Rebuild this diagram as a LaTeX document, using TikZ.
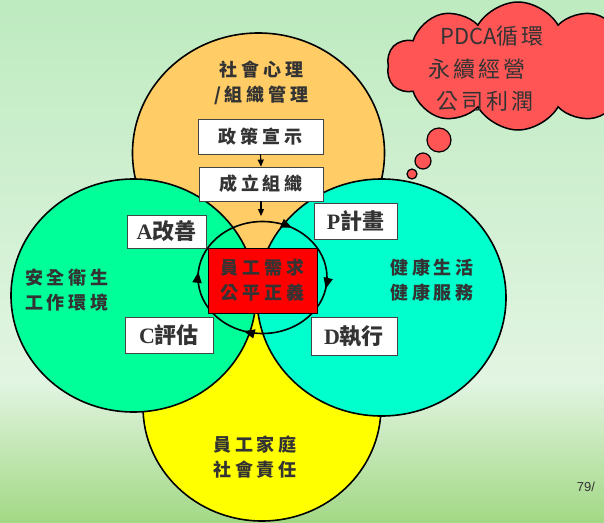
\documentclass[tikz,border=0pt]{standalone}
\usepackage{fontspec}
\usetikzlibrary{shapes.symbols,shapes.geometric,arrows.meta,decorations.markings}
\newfontfamily\cjk{Noto Sans CJK TC}
\newfontfamily\tnr{Liberation Serif}
\newfontfamily\arial{Liberation Sans}
\newcommand\ls{\hspace{4pt}}
\definecolor{bgtop}{HTML}{BEEBC0}
\definecolor{bgmid}{HTML}{E2F4E2}
\definecolor{bgbot}{HTML}{A2D884}
\definecolor{orangeC}{HTML}{FFCC66}
\definecolor{yellowC}{HTML}{FFFF00}
\definecolor{greenC}{HTML}{00FF99}
\definecolor{cyanC}{HTML}{00FFCC}
\definecolor{cloudC}{HTML}{FF5555}
\definecolor{txtC}{HTML}{333333}
\definecolor{boxB}{HTML}{444444}
\tikzset{
  circ/.style={ellipse, draw=black, line width=1.6pt, inner sep=0pt},
  lbl/.style={font=\cjk\bfseries\fontsize{18}{25}\selectfont, text=txtC, align=center, inner sep=0pt},
  stepbox/.style={draw=boxB, fill=white, line width=0.8pt, inner sep=0pt},
  pdcabox/.style={stepbox, font=\tnr\bfseries\fontsize{22}{24}\selectfont, text=txtC},
  arr/.style={-{Triangle[length=7pt,width=6pt]}, line width=1.2pt},
  bubble/.style={circle, draw=black, line width=1.2pt, fill=cloudC, inner sep=0pt},
  cloudtxt/.style={font=\cjk\fontsize{22}{24}\selectfont, text=txtC, inner sep=0pt},
  cyctip/.tip={Triangle[length=11pt,width=9pt]}
}
\begin{document}
\begin{tikzpicture}[x=1pt,y=-1pt]
\useasboundingbox (0,0) rectangle (604,522);
\begin{scope}
\clip (0,0) rectangle (604,522);
% background
\foreach \y in {0,4,...,376}{
  \pgfmathsetmacro\p{\y/380*100}
  \fill[bgmid!\p!bgtop] (0,\y) rectangle (604,\y+4.5);
}
\foreach \y in {380,384,...,520}{
  \pgfmathsetmacro\p{(\y-380)/142*100}
  \fill[bgbot!\p!bgmid] (0,\y) rectangle (604,\y+4.5);
}
% big circles
\node[circ, fill=orangeC, minimum width=252pt, minimum height=240pt] (psy) at (258.5,153) {};
\node[circ, fill=yellowC, minimum width=238pt, minimum height=228pt] (fam) at (262,407) {};
\node[circ, fill=greenC, minimum width=245pt, minimum height=233pt] (safe) at (133.5,295.5) {};
\node[circ, fill=cyanC, minimum width=249pt, minimum height=237pt] (health) at (381.5,297.5) {};
% PDCA cycle
\draw[line width=1.6pt, postaction={decorate},
  decoration={markings,
    mark=at position 0.03 with {\arrow{cyctip}},
    mark=at position 0.30 with {\arrow{cyctip}},
    mark=at position 0.515 with {\arrow{cyctip}},
    mark=at position 0.83 with {\arrow{cyctip}}}]
  (262.5,277.5) ellipse [x radius=64.5, y radius=56];
% central red box
\node[draw=black, line width=0.8pt, fill=red, minimum width=109pt, minimum height=65pt, inner sep=0pt,
  lbl] (need) at (262.5,280.5) {員\ls 工\ls 需\ls 求\\公\ls 平\ls 正\ls 義};
% step boxes
\node[stepbox, lbl, minimum width=125pt, minimum height=35pt] (policy) at (260.5,136.5) {政\ls 策\ls 宣\ls 示};
\node[stepbox, lbl, minimum width=124pt, minimum height=34pt] (organize) at (261,184) {成\ls 立\ls 組\ls 織};
\coordinate (orgEnd) at (261,216);
\draw[arr] (policy.south) -- (organize.north);
\draw[arr] (organize.south) -- (orgEnd);
% PDCA boxes
\node[pdcabox, minimum width=79pt, minimum height=33pt] (A) at (166.5,231.5) {A{\cjk 改善}};
\node[pdcabox, minimum width=83pt, minimum height=36pt] (P) at (355.5,221) {P{\cjk 計畫}};
\node[pdcabox, minimum width=88pt, minimum height=36pt] (C) at (169,335) {C{\cjk 評估}};
\node[pdcabox, minimum width=86pt, minimum height=38pt] (D) at (354,336) {D{\cjk 執行}};
% circle labels
\node[lbl] (psyT) at (261.5,82.5) {社\ls 會\ls 心\ls 理\\/\ls 組\ls 織\ls 管\ls 理};
\node[lbl] (safeT) at (67,290.5) {安\ls 全\ls 衛\ls 生\\工\ls 作\ls 環\ls 境};
\node[lbl] (healthT) at (432,280.5) {健\ls 康\ls 生\ls 活\\健\ls 康\ls 服\ls 務};
\node[lbl] (famT) at (255,457.5) {員\ls 工\ls 家\ls 庭\\社\ls 會\ls 責\ls 任};
% thought cloud
\node[cloud, cloud puffs=10, cloud puff arc=120, aspect=2.1, draw=black, line width=1.5pt,
  fill=cloudC, minimum width=262pt, minimum height=128pt] (cloud) at (518,66) {};
\node[bubble, minimum size=24pt] (b1) at (439,140) {};
\node[bubble, minimum size=16pt] (b2) at (423,161) {};
\node[bubble, minimum size=10pt] (b3) at (412,174) {};
\node[cloudtxt] (c1) at (492,36) {PDCA循\hspace{3pt}環};
\node[cloudtxt] (c2) at (477,69) {永\hspace{3pt}續\hspace{3pt}經\hspace{3pt}營};
\node[cloudtxt] (c3) at (485,101) {公\hspace{3pt}司\hspace{3pt}利\hspace{3pt}潤};
% page number
\node[font=\arial\fontsize{13}{15}\selectfont, text=txtC, inner sep=0pt] (pg) at (586,487) {79/};
\end{scope}
\end{tikzpicture}
\end{document}
